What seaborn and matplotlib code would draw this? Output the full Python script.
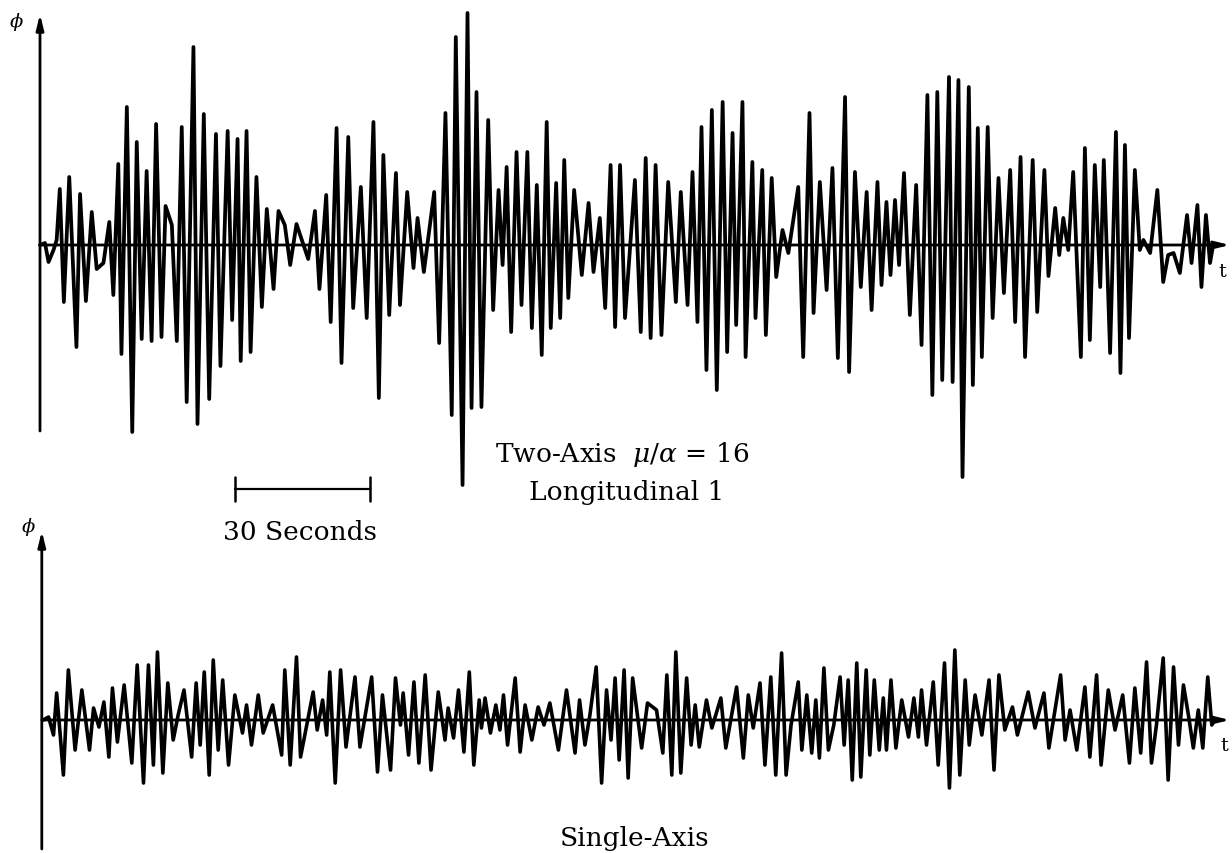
"""
Roll angle traces: two-axis vs single-axis (re-drawn from a scanned figure).
Values are the local peaks/troughs read off the scan.
"""
import numpy as np
import pandas as pd
import matplotlib
matplotlib.use("Agg")
import matplotlib.pyplot as plt
import seaborn as sns

# time of each peak / trough (seconds) and phi there (arbitrary units)
top_t = [
    0, 1.1, 1.9, 3.0, 3.7, 4.4, 5.3, 6.5, 8.1, 8.9,
    10.2, 11.5, 12.6, 14.1, 15.4, 16.3, 17.4, 18.1, 19.3, 20.5,
    21.5, 22.6, 23.7, 24.8, 25.8, 27.0, 27.9, 29.3, 30.4, 31.5,
    32.6, 34.1, 35.0, 36.4, 37.6, 39.1, 40.1, 41.7, 42.7, 43.9,
    44.6, 45.9, 46.8, 48.1, 49.3, 50.4, 51.9, 53.0, 54.4, 55.6,
    57.0, 59.6, 61.1, 62.1, 63.6, 64.6, 65.9, 67.0, 68.5, 69.6,
    71.3, 72.6, 74.1, 75.3, 76.3, 77.6, 79.1, 80.0, 81.6, 83.0,
    83.9, 85.3, 87.6, 88.7, 90.1, 91.5, 92.4, 93.9, 95.0, 95.9,
    97.0, 98.1, 99.6, 100.7, 101.9, 102.8, 103.7, 104.7, 105.9, 107.0,
    108.3, 109.3, 110.4, 111.5, 112.6, 113.5, 114.7, 115.6, 116.5, 117.4,
    118.7, 120.4, 121.9, 123.0, 124.4, 125.6, 126.8, 127.8, 128.9, 130.0,
    132.2, 133.5, 134.6, 135.7, 136.8, 138.1, 139.6, 141.3, 142.4, 143.9,
    145.0, 146.1, 147.0, 148.1, 149.3, 150.4, 151.7, 152.7, 153.9, 154.7,
    156.1, 156.8, 158.3, 159.0, 160.5, 161.3, 162.6, 163.6, 165.0, 166.3,
    168.5, 169.6, 171.0, 171.9, 173.3, 174.8, 176.1, 177.3, 178.9, 179.8,
    181.1, 182.4, 183.7, 184.8, 186.1, 187.0, 188.1, 189.0, 190.0, 190.9,
    192.0, 193.3, 194.7, 195.9, 197.2, 198.3, 199.4, 200.5, 202.0, 202.8,
    204.1, 205.0, 206.4, 207.3, 208.4, 209.3, 210.6, 211.7, 213.0, 214.2,
    215.6, 216.7, 217.9, 218.9, 220.6, 221.6, 223.2, 224.1, 225.6, 226.5,
    227.4, 228.5, 229.6, 231.3, 232.2, 233.3, 234.4, 235.6, 236.4, 237.8,
    239.1, 240.1, 241.1, 242.0, 243.3, 244.4, 245.2, 246.7, 248.3, 249.6,
    250.7, 251.9, 253.3, 254.9, 255.9, 257.2, 258.1, 259.1, 260.0, 260.7,
]
top_phi = [
    0, 2, -17, -5, 5, 56, -57, 68, -102, 51,
    -56, 33, -24, -18, 23, -50, 81, -109, 138, -187,
    103, -94, 74, -96, 121, -92, 39, 20, -96, 118,
    -157, 198, -179, 131, -154, 111, -121, 114, -75, 106,
    -116, 114, -107, 68, -62, 36, -44, 34, 20, -20,
    21, -14, 34, -44, 50, -77, 117, -118, 108, -63,
    58, -73, 123, -153, 90, -70, 72, -60, 53, -23,
    27, -27, 53, -98, 132, -170, 208, -240, 232, -163,
    153, -162, 125, -65, 55, -20, 78, -87, 93, -60,
    93, -83, 60, -110, 123, -83, 62, -73, 85, -53,
    55, -30, 42, -27, 27, -63, 80, -82, 80, -73,
    65, -87, 87, -93, 80, -90, 63, -57, 53, -60,
    73, -77, 118, -125, 135, -145, 143, -107, 112, -80,
    143, -112, 83, -73, 75, -90, 67, -32, 15, -8,
    58, -112, 132, -68, 63, -45, 77, -113, 148, -127,
    73, -42, 53, -65, 63, -40, 43, -30, 45, -20,
    72, -70, 60, -100, 150, -150, 153, -135, 168, -137,
    165, -232, 158, -140, 117, -112, 118, -73, 67, -48,
    75, -77, 88, -112, 85, -67, 75, -31, 37, -10,
    27, -5, 73, -112, 97, -95, 80, -42, 85, -108,
    113, -128, 100, -93, 75, -5, 5, -8, 55, -37,
    -10, -8, -28, 30, -18, 40, -42, 30, -18, 0,
]

bottom_t = [
    0.7, 1.9, 3.0, 3.7, 4.4, 5.2, 6.3, 7.8, 9.3, 10.0,
    11.0, 11.9, 13.1, 14.2, 15.3, 16.1, 17.2, 18.7, 20.4, 21.6,
    23.0, 24.1, 25.2, 26.1, 27.3, 28.4, 29.6, 30.7, 32.0, 33.7,
    34.7, 35.6, 36.5, 37.6, 38.5, 39.6, 40.6, 41.9, 43.3, 45.0,
    45.9, 47.0, 48.5, 49.6, 51.7, 53.7, 54.4, 55.6, 57.0, 57.9,
    60.7, 61.6, 62.8, 63.7, 64.4, 65.6, 66.8, 68.0, 70.0, 71.1,
    73.7, 75.0, 76.1, 77.9, 79.0, 80.1, 80.7, 81.9, 83.1, 84.2,
    85.6, 86.9, 88.5, 90.0, 90.7, 91.9, 93.0, 94.2, 95.4, 96.4,
    97.6, 98.1, 98.9, 100.1, 101.3, 102.2, 103.0, 103.9, 105.6, 106.7,
    107.8, 109.3, 110.7, 112.0, 113.3, 115.2, 117.0, 118.9, 119.9, 121.1,
    122.2, 123.6, 124.8, 125.9, 126.9, 127.8, 128.7, 129.8, 130.7, 131.7,
    133.7, 135.0, 137.0, 138.4, 139.3, 140.4, 141.3, 142.4, 143.7, 144.7,
    145.6, 146.5, 148.1, 149.3, 151.3, 152.4, 154.8, 156.3, 157.4, 158.5,
    160.0, 161.1, 162.4, 163.5, 164.8, 165.8, 166.9, 168.5, 169.3, 170.4,
    171.5, 172.4, 173.2, 174.2, 175.2, 176.4, 177.8, 178.7, 179.6, 180.5,
    181.5, 182.4, 183.6, 184.4, 185.4, 186.5, 187.4, 188.1, 189.1, 190.2,
    191.5, 193.0, 194.2, 195.2, 195.9, 197.0, 198.5, 199.6, 201.0, 202.1,
    203.3, 204.4, 205.6, 206.5, 207.8, 209.3, 210.9, 212.0, 213.1, 214.4,
    216.1, 217.2, 219.6, 221.1, 223.1, 224.2, 226.8, 227.8, 228.9, 230.4,
    232.2, 233.3, 234.8, 235.8, 237.4, 238.9, 240.6, 242.1, 243.3, 244.6,
    245.9, 247.0, 248.1, 249.6, 250.7, 251.9, 253.0, 254.1, 255.2, 256.3,
    257.4, 258.4, 259.5, 260.4, 261.1,
]
bottom_phi = [
    0, 3, -15, 27, -10, -55, 50, -30, 30, 5,
    -30, 12, -7, 18, -37, 32, -22, 35, -43, 55,
    -63, 55, -45, 68, -53, 37, -20, 5, 30, -37,
    37, -25, 48, -55, 60, -30, 40, -45, 25, -13,
    15, -25, 25, -13, 15, -35, 50, -45, 63, -37,
    28, -10, 20, -15, 48, -63, 50, -27, 43, -27,
    43, -52, 25, -50, 42, -5, 27, -35, 38, -43,
    45, -50, 28, -20, 12, -18, 30, -32, 48, -45,
    20, -8, 22, -13, 15, -10, 25, -25, 42, -32,
    15, -20, 13, -5, 17, -30, 30, -33, 20, -25,
    5, 53, -63, 30, -20, 42, -40, 50, -58, 42,
    -28, 17, 10, -33, 45, -55, 68, -53, 42, -25,
    15, -27, 20, -8, 22, -28, 33, -38, 25, -8,
    37, -45, 43, -55, 67, -55, -5, 38, -30, 25,
    -33, 20, -38, 52, -30, -5, 43, -25, 40, -60,
    57, -57, 50, -35, 40, -30, 22, -30, 40, -28,
    20, -17, 22, -17, 30, -25, 38, -45, 57, -68,
    70, -55, 40, -25, 25, -15, 40, -50, 45, -10,
    13, -15, 28, -8, 27, -28, 45, -20, 10, -30,
    33, -37, 45, -45, 30, -10, 25, -43, 32, -33,
    58, -43, -5, 62, -60, 53, -25, 35, 5, -28,
    10, -28, 43, -5, 0,
]

assert len(top_t) == len(top_phi)
assert len(bottom_t) == len(bottom_phi)

top = pd.DataFrame({"t": top_t, "phi": top_phi})
bottom = pd.DataFrame({"t": bottom_t, "phi": bottom_phi})

sns.set_style("white")
plt.rcParams["font.family"] = ["DejaVu Serif"]
plt.rcParams["mathtext.fontset"] = "dejavuserif"
plt.rcParams["text.color"] = "black"

W, H = 1232, 854
fig = plt.figure(figsize=(W / 100, H / 100), dpi=100)

# 4.5 px per second, t = 0 at x = 40 px
xlim = (-40 / 4.5, (W - 40) / 4.5)
t_end = (1230 - 40) / 4.5

ax1 = fig.add_axes([0, 1 - 560 / H, 1, 550 / H])
ax2 = fig.add_axes([0, 0, 1, 294 / H])
ax1.set_xlim(xlim)
ax1.set_ylim(-314, 236)
ax2.set_xlim(xlim)
ax2.set_ylim(-133, 161)

sns.lineplot(data=top, x="t", y="phi", ax=ax1, color="black", lw=2.7,
             estimator=None, sort=False)
sns.lineplot(data=bottom, x="t", y="phi", ax=ax2, color="black", lw=2.6,
             estimator=None, sort=False)

arrow = dict(arrowstyle="-|>,head_length=0.9,head_width=0.22", lw=2,
             color="black", shrinkA=0, shrinkB=0)
# axes with arrow heads
ax1.annotate("", xy=(0, 231), xytext=(0, -186), arrowprops=arrow,
             annotation_clip=False)
ax1.annotate("", xy=(t_end, 0), xytext=(0, 0), arrowprops=arrow,
             annotation_clip=False)
ax2.annotate("", xy=(0.4, 189), xytext=(0.4, -129), arrowprops=arrow,
             annotation_clip=False)
ax2.annotate("", xy=(t_end, 0), xytext=(0.4, 0), arrowprops=arrow,
             annotation_clip=False)

# 30 second scale bar
bar_t0 = (235 - 40) / 4.5
ax1.plot([bar_t0, bar_t0 + 30], [-244, -244], color="black", lw=1.6)
for tb in (bar_t0, bar_t0 + 30):
    ax1.plot([tb, tb], [-232, -256], color="black", lw=1.8)

for ax in (ax1, ax2):
    ax.axis("off")


def fx(px):
    return px / W


def fy(py):
    return 1 - py / H


fs = 19
fig.text(fx(622), fy(462), r"Two-Axis  $\mu/\alpha$ = 16", ha="center",
         va="baseline", fontsize=fs)
fig.text(fx(627), fy(500), "Longitudinal 1", ha="center", va="baseline",
         fontsize=fs)
fig.text(fx(300), fy(540), "30 Seconds", ha="center", va="baseline",
         fontsize=fs)
fig.text(fx(635), fy(846), "Single-Axis", ha="center", va="baseline",
         fontsize=fs)

fig.text(fx(16), fy(22), r"$\phi$", ha="center", va="center", fontsize=14)
fig.text(fx(28), fy(527), r"$\phi$", ha="center", va="center", fontsize=14)
fig.text(fx(1222), fy(272), "t", ha="center", va="center", fontsize=14)
fig.text(fx(1224), fy(746), "t", ha="center", va="center", fontsize=14)

fig.savefig("out.png", dpi=100)
